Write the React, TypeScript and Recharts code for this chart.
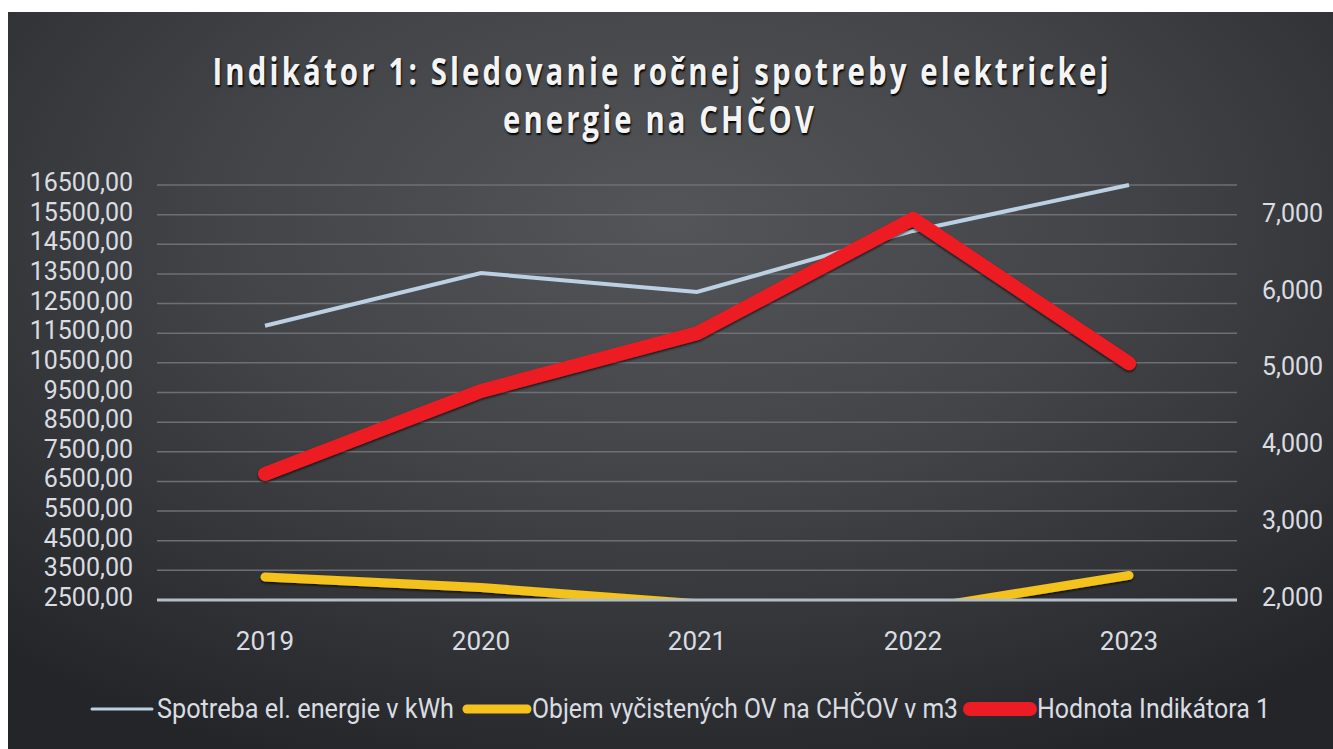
import React from 'react';
import { LineChart, Line, XAxis, YAxis, CartesianGrid } from 'recharts';

const years = ['2019', '2020', '2021', '2022', '2023'];
const spotreba = [11750, 13530, 12890, 14950, 16500];
const objem = [3276, 2920, 2370, 2160, 3330];
const hodnota = [3640, 4720, 5470, 6960, 5080];
const leftTicks = [2500, 3500, 4500, 5500, 6500, 7500, 8500, 9500, 10500, 11500, 12500, 13500, 14500, 15500, 16500];
const rightTicks = [2000, 3000, 4000, 5000, 6000, 7000];
const seriesNames = ['Spotreba el. energie v kWh', 'Objem vyčistených OV na CHČOV v m3', 'Hodnota Indikátora 1'];
const titleLines = ['Indikátor 1: Sledovanie ročnej spotreby elektrickej', 'energie na CHČOV'];

const data = years.map((y, i) => ({ year: y, spotreba: spotreba[i], objem: objem[i], hodnota: hodnota[i] }));

const FONT = 'Roboto, "Open Sans", sans-serif';
const TITLE_FONT = '"Open Sans", Roboto, sans-serif';
const BLUE = '#bcd0e4';
const YELLOW = '#f4c21c';
const RED = '#ec1c24';
const TEXT = '#d9dde2';

const fmtLeft = (v: number) => v.toFixed(2).replace('.', ',');
const fmtRight = (v: number) => v.toLocaleString('en-US');

const LeftTick = (p: any) => (
  <text x={p.x} y={p.y} dy={6} textAnchor="end" fill={TEXT} fontSize={25} fontFamily={FONT}>
    {fmtLeft(p.payload.value)}
  </text>
);
const RightTick = (p: any) => (
  <text x={p.x} y={p.y} dy={6} textAnchor="start" fill={TEXT} fontSize={25} fontFamily={FONT}>
    {fmtRight(p.payload.value)}
  </text>
);
const BottomTick = (p: any) => (
  <text x={p.x} y={p.y} dy={50} textAnchor="middle" fill={TEXT} fontSize={26} fontFamily={FONT}>
    {p.payload.value}
  </text>
);

// legend layout (icon start/end, text start, text length)
const legendLayout = [
  { color: BLUE, width: 3, x1: 92, x2: 152, tx: 157, tl: 297 },
  { color: YELLOW, width: 9, x1: 467, x2: 527, tx: 532, tl: 426 },
  { color: RED, width: 14, x1: 970, x2: 1030, tx: 1037, tl: 233 },
];

export default function App() {
  return (
    <div style={{ position: 'absolute', left: 0, top: 0, width: 1333, height: 749, background: '#ffffff', overflow: 'hidden' }}>
      <div
        style={{
          position: 'absolute', left: 8, top: 12, width: 1325, height: 737,
          background: 'radial-gradient(ellipse 75% 80% at 50% 28%, #535559 0%, #424448 45%, #2e2f33 82%, #242528 100%)',
        }}
      />
      <svg width={0} height={0} style={{ position: 'absolute' }}>
        <defs>
          <filter id="lineShadow" x="-10%" y="-20%" width="120%" height="140%">
            <feDropShadow dx="0" dy="1.5" stdDeviation="1.2" floodColor="#000000" floodOpacity="0.75" />
          </filter>
        </defs>
      </svg>
      <div style={{ position: 'absolute', left: 0, top: 0 }}>
        <LineChart width={1333} height={749} data={data} margin={{ top: 185, right: 0, left: 0, bottom: 0 }}>
          <CartesianGrid yAxisId="left" vertical={false} stroke="#6c6f74" strokeWidth={1.5} />
          <XAxis
            dataKey="year"
            height={149}
            tickSize={0}
            tickMargin={0}
            padding={{ left: 108, right: 108 }}
            axisLine={{ stroke: '#b4bcc5', strokeWidth: 3 }}
            tick={<BottomTick />}
          />
          <YAxis
            yAxisId="left"
            width={157}
            domain={[2500, 16500]}
            ticks={leftTicks}
            interval={0}
            axisLine={false}
            tickSize={0}
            tickMargin={24}
            tick={<LeftTick />}
          />
          <YAxis yAxisId="clip" hide width={0} domain={[2500, 16500]} allowDataOverflow />
          <YAxis
            yAxisId="right"
            orientation="right"
            width={96}
            domain={[2000, 7400]}
            ticks={rightTicks}
            interval={0}
            axisLine={false}
            tickSize={0}
            tickMargin={25}
            tick={<RightTick />}
          />
          <Line yAxisId="left" type="linear" dataKey="spotreba" name={seriesNames[0]} stroke={BLUE} strokeWidth={4} dot={false} isAnimationActive={false} />
          <Line yAxisId="clip" type="linear" dataKey="objem" name={seriesNames[1]} stroke={YELLOW} strokeWidth={9} strokeLinecap="round" strokeLinejoin="round" dot={false} isAnimationActive={false} filter="url(#lineShadow)" />
          <Line yAxisId="right" type="linear" dataKey="hodnota" name={seriesNames[2]} stroke={RED} strokeWidth={14} strokeLinecap="round" strokeLinejoin="round" dot={false} isAnimationActive={false} filter="url(#lineShadow)" />
        </LineChart>
      </div>
      <svg width={1333} height={749} style={{ position: 'absolute', left: 0, top: 0, pointerEvents: 'none' }}>
        <g fontFamily={TITLE_FONT} fontWeight="bold" fontSize={38} fill="#f4f4f4" textAnchor="middle" letterSpacing={4} style={{ textShadow: '1px 2px 2px #000' }}>
          <text x={662} y={85} textLength={899} lengthAdjust="spacingAndGlyphs">{titleLines[0]}</text>
          <text x={660} y={133} textLength={314} lengthAdjust="spacingAndGlyphs">{titleLines[1]}</text>
        </g>
        {legendLayout.map((it, i) => (
          <g key={i}>
            <line x1={it.x1} y1={709} x2={it.x2} y2={709} stroke={it.color} strokeWidth={it.width} strokeLinecap="round" />
            <text x={it.tx} y={718} fontFamily={FONT} fontSize={28} fill={TEXT} textLength={it.tl} lengthAdjust="spacingAndGlyphs">
              {seriesNames[i]}
            </text>
          </g>
        ))}
      </svg>
    </div>
  );
}
